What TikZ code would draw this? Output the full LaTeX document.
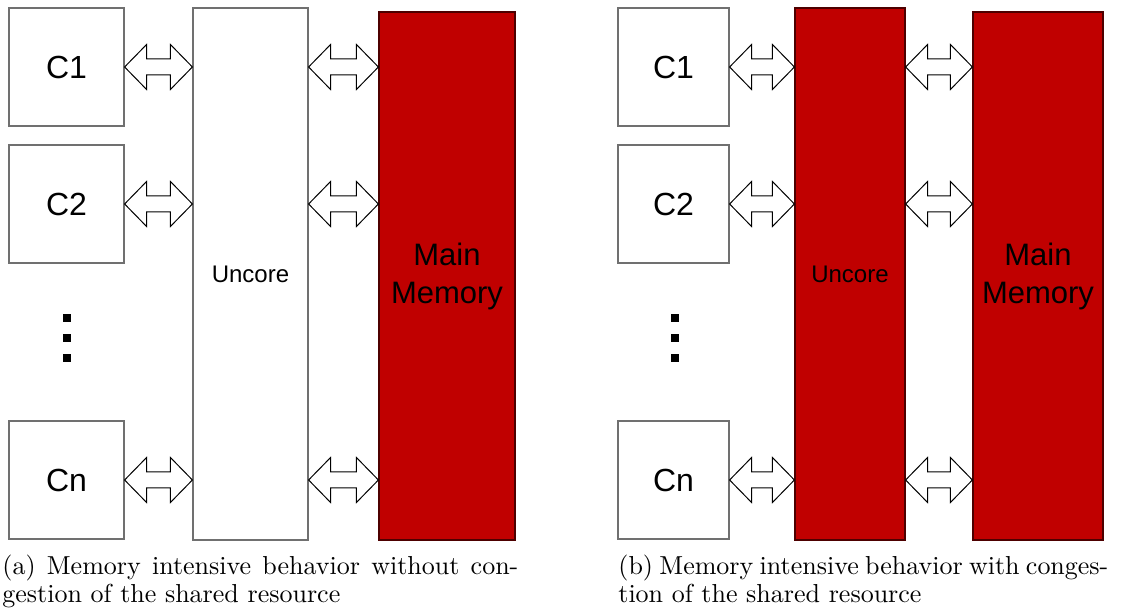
\documentclass[tikz,border=0pt]{standalone}
\usepackage{fontspec}
\newfontfamily\arial{Liberation Sans}
\newfontfamily\capfont{lmroman10-regular}[Extension=.otf]
\usetikzlibrary{calc}
\definecolor{memred}{RGB}{192,0,0}
\definecolor{boxgray}{RGB}{112,112,112}
\newcommand{\biarrow}[2]{\draw[biarrow] let \p1=#1, \p2=#2 in
  (\x1,\y1) -- (\x1+11pt,\y1+11.25pt) -- (\x1+11pt,\y1+4pt) -- (\x2-11pt,\y1+4pt)
  -- (\x2-11pt,\y1+11.25pt) -- (\x2,\y1) -- (\x2-11pt,\y1-11.25pt) -- (\x2-11pt,\y1-4pt)
  -- (\x1+11pt,\y1-4pt) -- (\x1+11pt,\y1-11.25pt) -- cycle;}
\begin{document}
\begin{tikzpicture}[x=0.5pt,y=-0.5pt,
  wbox/.style={draw=boxgray, line width=0.6pt, fill=white, inner sep=0pt},
  rbox/.style={draw=black!60!memred, fill=memred, line width=0.6pt, inner sep=0pt},
  corebox/.style={wbox, minimum height=59pt, font=\arial\fontsize{16}{19}\selectfont},
  uncbox/.style={minimum height=266pt, font=\arial\fontsize{12}{14}\selectfont},
  membox/.style={rbox, minimum height=264pt, align=center, font=\arial\fontsize{15.5}{19}\selectfont},
  biarrow/.style={draw=black, fill=white, line width=0.5pt, line join=miter},
  dotsq/.style={fill=black, minimum size=4pt, inner sep=0pt},
  captext/.style={anchor=base west, inner sep=0pt, font=\capfont\fontsize{13}{15}\selectfont}]
\useasboundingbox (0,0) rectangle (1146,613);

% ---- panel (a)
\node[corebox, minimum width=57.5pt] (a1) at (66.5,67) {C1};
\node[corebox, minimum width=57.5pt] (a2) at (66.5,204) {C2};
\node[corebox, minimum width=57.5pt] (an) at (66.5,480) {Cn};
\node[wbox, uncbox, minimum width=57.5pt] (aunc) at (250.5,274) {Uncore};
\node[membox, minimum width=68pt] (amem) at (447,276) {Main\\Memory};
\node[dotsq] (ad1) at (67,318) {};
\node[dotsq] (ad2) at (67,338) {};
\node[dotsq] (ad3) at (67,358) {};
\biarrow{(a1.east)}{(aunc.west |- a1.east)}
\biarrow{(a2.east)}{(aunc.west |- a2.east)}
\biarrow{(an.east)}{(aunc.west |- an.east)}
\biarrow{(aunc.east |- a1.east)}{(amem.west |- a1.east)}
\biarrow{(aunc.east |- a2.east)}{(amem.west |- a2.east)}
\biarrow{(aunc.east |- an.east)}{(amem.west |- an.east)}
\node[captext] (capa1) at (2,575) {\makebox[258pt][s]{(a) Memory intensive behavior without con-}};
\node[captext] (capa2) at (2,603) {gestion of the shared resource};

% ---- panel (b)
\node[corebox, minimum width=55.5pt] (b1) at (673.5,67) {C1};
\node[corebox, minimum width=55.5pt] (b2) at (673.5,204) {C2};
\node[corebox, minimum width=55.5pt] (bn) at (673.5,480) {Cn};
\node[rbox, uncbox, minimum width=55pt] (bunc) at (850,274) {Uncore};
\node[membox, minimum width=65pt] (bmem) at (1038,276) {Main\\Memory};
\node[dotsq] (bd1) at (675,318) {};
\node[dotsq] (bd2) at (675,338) {};
\node[dotsq] (bd3) at (675,358) {};
\biarrow{(b1.east)}{(bunc.west |- b1.east)}
\biarrow{(b2.east)}{(bunc.west |- b2.east)}
\biarrow{(bn.east)}{(bunc.west |- bn.east)}
\biarrow{(bunc.east |- b1.east)}{(bmem.west |- b1.east)}
\biarrow{(bunc.east |- b2.east)}{(bmem.west |- b2.east)}
\biarrow{(bunc.east |- bn.east)}{(bmem.west |- bn.east)}
\node[captext] (capb1) at (618,575) {\makebox[245pt][s]{(b) Memory intensive behavior with conges-}};
\node[captext] (capb2) at (618,603) {tion of the shared resource};
\end{tikzpicture}
\end{document}
